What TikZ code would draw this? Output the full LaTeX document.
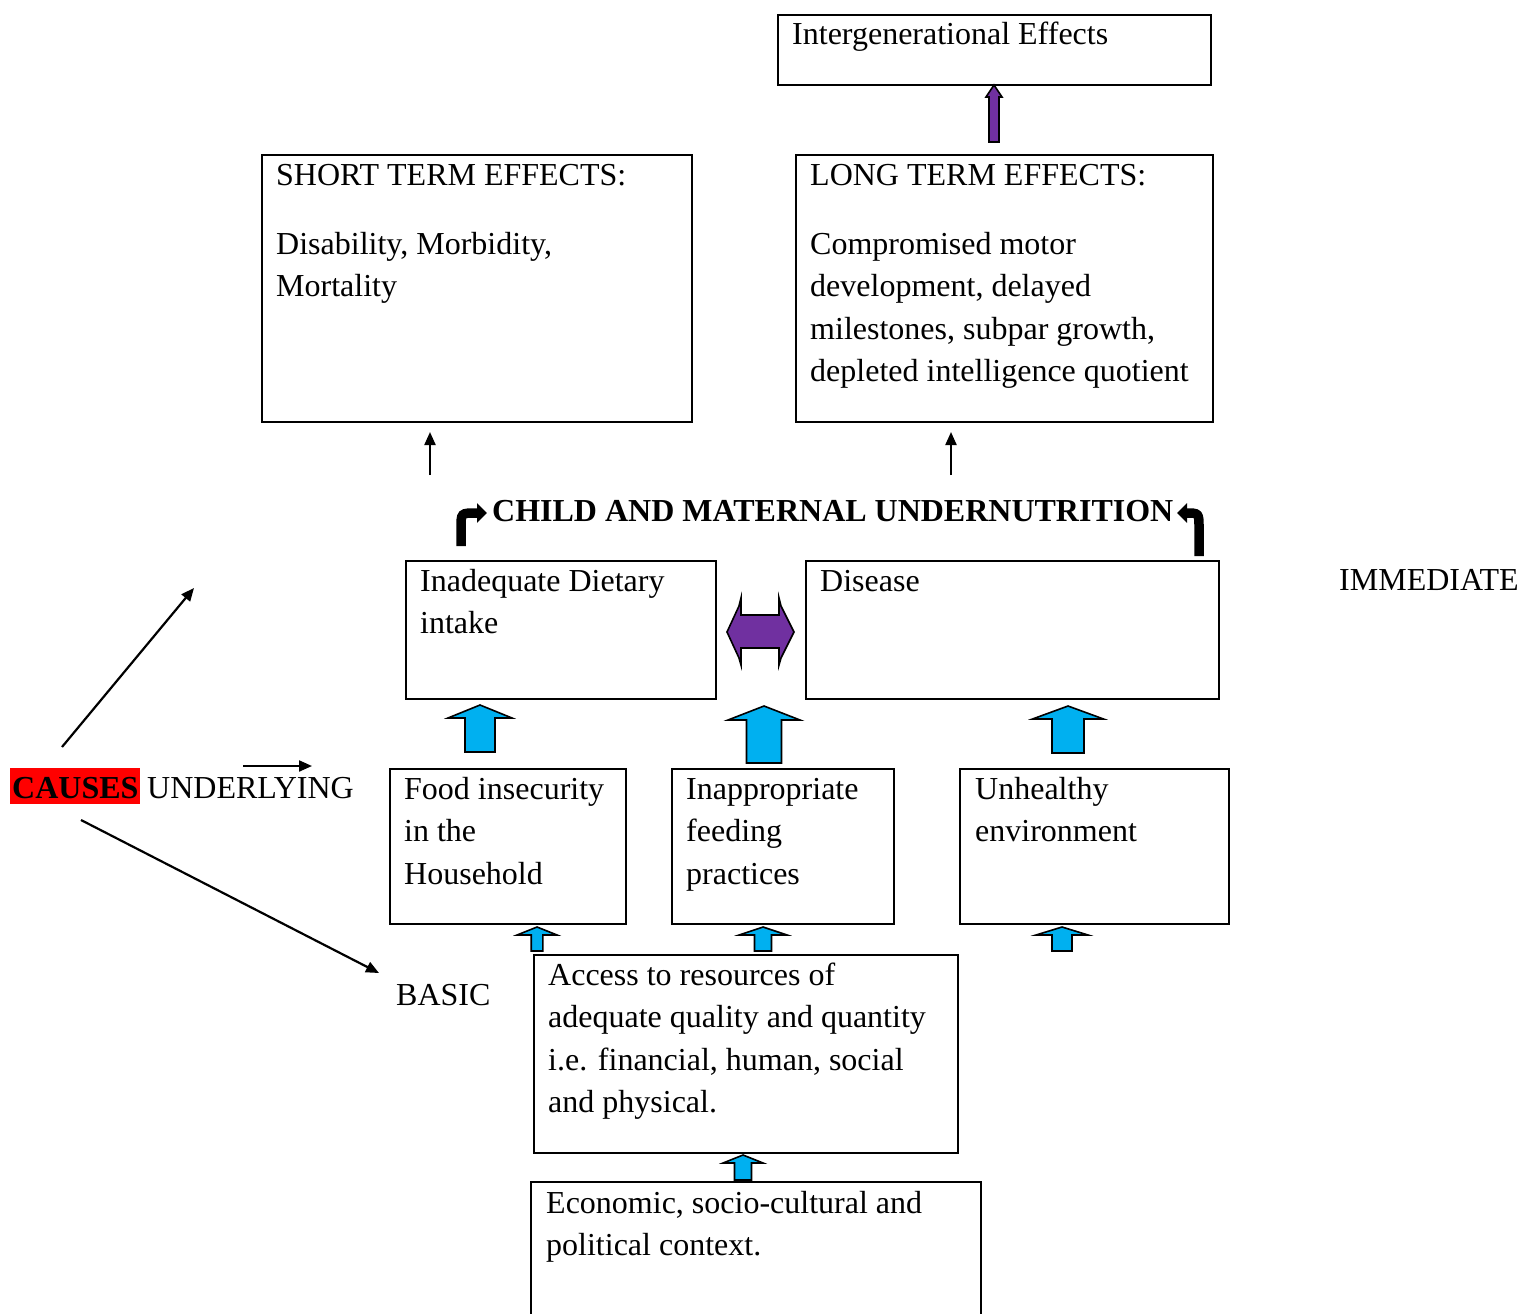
\documentclass[tikz,border=0pt]{standalone}
\usepackage{fontspec}
\setmainfont{Liberation Serif}
\usetikzlibrary{arrows.meta}
\definecolor{arrblue}{HTML}{00B0F0}
\definecolor{arrpurple}{HTML}{7030A0}
\newcommand{\blockup}[7]{%
  \fill[#7,draw=black,line width=1.6pt,line join=miter]
    (#1,#2) -- ({#1+#4},#3) -- ({#1+#5},#3) -- ({#1+#5},#6) -- ({#1-#5},#6)
    -- ({#1-#5},#3) -- ({#1-#4},#3) -- cycle;}
\begin{document}
\begin{tikzpicture}[x=1pt,y=-1pt,
  box/.style={draw,line width=1.6pt,inner sep=0pt},
  txt/.style={anchor=base west,inner sep=0pt,font=\fontsize{32}{42}\selectfont},
  btxt/.style={txt,font=\fontsize{32}{42}\selectfont\bfseries},
  thin/.style={line width=2.2pt,-{Triangle[length=13pt,width=11pt]}},
  bent/.style={line width=9.5pt,-{Triangle[length=10pt,width=19pt]}}]
\useasboundingbox (0,0) rectangle (1523,1314);
% boxes
\node[box,minimum width=433pt,minimum height=70pt,anchor=north west] (ig) at (777,14) {};
\node[box,minimum width=430pt,minimum height=267pt,anchor=north west] (st) at (261,154) {};
\node[box,minimum width=417pt,minimum height=267pt,anchor=north west] (lt) at (795,154) {};
\node[box,minimum width=310pt,minimum height=138pt,anchor=north west] (ina) at (405,560) {};
\node[box,minimum width=413pt,minimum height=138pt,anchor=north west] (dis) at (805,560) {};
\node[box,minimum width=236pt,minimum height=155pt,anchor=north west] (food) at (389,768) {};
\node[box,minimum width=222pt,minimum height=155pt,anchor=north west] (feed) at (671,768) {};
\node[box,minimum width=269pt,minimum height=155pt,anchor=north west] (env) at (959,768) {};
\node[box,minimum width=424pt,minimum height=198pt,anchor=north west] (acc) at (533,954) {};
\draw[line width=1.6pt] (531,1320) -- (531,1182) -- (981,1182) -- (981,1320);
% texts
\node[txt] (t1) at (792,45) {Intergenerational Effects};
\node[txt] (t2) at (276,185) {SHORT TERM EFFECTS:};
\node[txt] (t3) at (276,254) {Disability, Morbidity,};
\node[txt] (t4) at (276,296) {Mortality};
\node[txt] (t5) at (810,185) {LONG TERM EFFECTS:};
\node[txt] (t6) at (810,254) {Compromised motor};
\node[txt] (t7) at (810,296) {development, delayed};
\node[txt] (t8) at (810,339) {milestones, subpar growth,};
\node[txt] (t9) at (810,381) {depleted intelligence quotient};
\node[btxt] (title) at (492,521) {CHILD AND MATERNAL UNDERNUTRITION};
\node[txt] (t10) at (420,591) {Inadequate Dietary};
\node[txt] (t11) at (420,633) {intake};
\node[txt] (t12) at (820,591) {Disease};
\node[txt] (imm) at (1339,590) {IMMEDIATE};
\node[btxt,fill=red,inner xsep=2pt,text height=30pt,text depth=6pt] (causes) at (10,798) {CAUSES};
\node[txt] (und) at (147,798) {UNDERLYING};
\node[txt] (t13) at (404,799) {Food insecurity};
\node[txt] (t14) at (404,841) {in the};
\node[txt] (t15) at (404,884) {Household};
\node[txt] (t16) at (686,799) {Inappropriate};
\node[txt] (t17) at (686,841) {feeding};
\node[txt] (t18) at (686,884) {practices};
\node[txt] (t19) at (975,799) {Unhealthy};
\node[txt] (t20) at (975,841) {environment};
\node[txt] (basic) at (396,1005) {BASIC};
\node[txt] (t21) at (548,985) {Access to resources of};
\node[txt] (t22) at (548,1027) {adequate quality and quantity};
\node[txt] (t23) at (548,1070) {i.e. financial, human, social};
\node[txt] (t24) at (548,1112) {and physical.};
\node[txt] (t25) at (546,1213) {Economic, socio-cultural and};
\node[txt] (t26) at (546,1255) {political context.};
% thin arrows
\coordinate (a1s) at (430,475); \coordinate (a1e) at (430,432);
\coordinate (a2s) at (951,475); \coordinate (a2e) at (951,432);
\coordinate (a3s) at (62,747); \coordinate (a3e) at (194,588);
\coordinate (a4s) at (81,820); \coordinate (a4e) at (379,973);
\coordinate (a5s) at (243,766); \coordinate (a5e) at (312,766);
\draw[thin] (a1s) -- (a1e);
\draw[thin] (a2s) -- (a2e);
\draw[thin] (a3s) -- (a3e);
\draw[thin] (a4s) -- (a4e);
\draw[thin] (a5s) -- (a5e);
% bent arrows
\coordinate (b1s) at (461,546); \coordinate (b1e) at (487,513);
\coordinate (b2s) at (1199,556); \coordinate (b2e) at (1177,513);
\draw[bent] (b1s) -- (461,528) .. controls (461,513) .. (476,513) -- (b1e);
\draw[bent] (b2s) -- (1199,528) .. controls (1199,513) .. (1186,513) -- (b2e);
% block arrows
\blockup{480}{705}{718}{32}{15}{752}{arrblue}
\blockup{764}{706}{720}{36}{17.5}{763}{arrblue}
\blockup{1068}{706}{719}{35.5}{16}{753}{arrblue}
\blockup{537}{927}{935}{20}{5.8}{951}{arrblue}
\blockup{763}{927}{935}{24}{8.5}{951}{arrblue}
\blockup{1062}{927}{935}{26}{10}{951}{arrblue}
\blockup{743}{1155}{1163}{20}{8.5}{1180}{arrblue}
\blockup{994}{85}{97}{8}{5}{142}{arrpurple}
% double purple arrow
\fill[arrpurple,draw=black,line width=1.6pt,line join=miter]
  (727,632) -- (739,606) -- (741,598) -- (741,615) -- (779,615) -- (779,598)
  -- (781,606) -- (794,632) -- (781,658) -- (779,665) -- (779,648) -- (741,648)
  -- (741,665) -- (739,658) -- cycle;
\end{tikzpicture}
\end{document}
